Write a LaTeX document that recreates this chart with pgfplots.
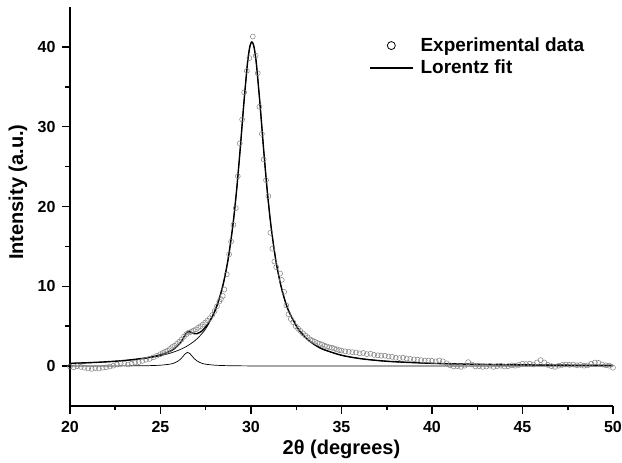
\documentclass[border=0pt]{standalone}
\usepackage{pgfplots}
\pgfplotsset{compat=1.18}
\usepackage{fontspec}
\setmainfont{Liberation Sans}

\begin{document}
\begin{tikzpicture}
\useasboundingbox (-70pt,-57pt) rectangle (552pt,406pt);
\begin{axis}[
  scale only axis, width=543pt, height=399pt,
  xmin=20, xmax=50, ymin=-5, ymax=45,
  axis x line*=bottom, axis y line*=left,
  axis line style={-, line width=1.2pt},
  xtick={20,25,...,50}, ytick={0,10,...,40},
  minor x tick num=1, minor y tick num=1,
  tick align=outside,
  major tick length=8pt, minor tick length=4.5pt,
  major tick style={line width=1.5pt, black},
  minor tick style={line width=1.5pt, black},
  /pgf/number format/assume math mode=true,
  tick label style={font=\fontsize{16}{16}\selectfont\bfseries},
  xticklabel style={yshift=-4pt},
  yticklabel style={xshift=-3pt},
  xlabel={2θ (degrees)}, ylabel={Intensity (a.u.)},
  label style={font=\fontsize{20}{20}\selectfont\bfseries},
  xlabel style={at={(axis description cs:0.5,-0.108)}, anchor=center},
  ylabel style={at={(axis description cs:-0.096,0.536)}, anchor=center},
  legend style={draw=none, fill=none, font=\fontsize{19}{19}\selectfont\bfseries,
    at={(axis description cs:0.545,0.933)}, anchor=north west, row sep=3pt,
    column sep=5pt},
  legend cell align=left,
  legend image code/.code={\draw[#1] (0pt,0pt) -- (43pt,0pt);},
]
% experimental data
\addplot[only marks, mark=o, mark size=2.5pt, gray, mark options={line width=0.5pt},
  legend image code/.code={\draw[black, line width=0.8pt] (21.5pt,0pt) circle (4pt);}]
coordinates {
(20.0,-0.05) (20.2,-0.15) (20.4,0.0) (20.6,-0.1) (20.8,-0.2) (21.0,-0.3) (21.2,-0.35)
(21.4,-0.25) (21.6,-0.3) (21.8,-0.2) (22.0,-0.15) (22.2,-0.05) (22.4,0.05) (22.6,0.2)
(22.8,0.35) (23.0,0.3) (23.2,0.2) (23.4,0.3) (23.6,0.45) (23.8,0.5) (24.0,0.65)
(24.2,0.8) (24.4,0.9) (24.6,1.1) (24.8,1.3)
(25.0,1.5) (25.13,1.65) (25.26,1.8) (25.39,1.95) (25.52,2.15) (25.65,2.4) (25.78,2.55)
(25.91,2.8) (26.04,3.05) (26.17,3.35) (26.3,3.7) (26.43,4.0) (26.56,4.2) (26.69,4.3)
(26.82,4.45) (26.95,4.6) (27.08,4.8) (27.21,5.0) (27.34,5.2) (27.47,5.45) (27.6,5.7)
(27.73,6.0) (27.86,6.4) (27.99,6.9) (28.12,7.5) (28.25,8.1) (28.34,8.4)
(28.44,8.8) (28.53,9.6) (28.66,11.5) (28.79,14.0) (28.90,15.6) (29.03,17.7) (29.16,19.8)
(29.27,23.8) (29.38,27.9) (29.51,30.9) (29.62,34.3) (29.77,37.0) (29.91,38.6) (30.10,41.3)
(30.26,38.9) (30.37,36.7) (30.46,32.5) (30.60,29.1) (30.70,25.9) (30.83,23.3) (30.96,21.3)
(31.07,16.7) (31.18,14.7) (31.29,13.1) (31.39,12.4) (31.61,11.6) (31.70,10.8) (31.83,9.3)
(31.95,7.6) (32.07,6.5) (32.2,5.9) (32.33,5.5) (32.47,5.0) (32.6,4.7) (32.73,4.4)
(32.87,4.1) (33.0,3.85) (33.13,3.6) (33.27,3.35) (33.4,3.2) (33.53,3.05) (33.67,2.9)
(33.8,2.8) (33.93,2.7) (34.07,2.55) (34.2,2.45) (34.33,2.35) (34.47,2.3) (34.6,2.2)
(34.73,2.1) (34.87,2.0)
(35.0,1.95) (35.2,1.85) (35.4,1.8) (35.6,1.75) (35.8,1.7) (36.0,1.6) (36.2,1.65)
(36.4,1.5) (36.6,1.55) (36.8,1.4) (37.0,1.35) (37.2,1.3) (37.4,1.3) (37.6,1.2)
(37.8,1.15) (38.0,1.05) (38.2,1.0) (38.4,1.05) (38.6,0.95) (38.8,0.9) (39.0,0.85)
(39.2,0.8) (39.4,0.75) (39.6,0.7) (39.8,0.7) (40.0,0.65) (40.2,0.6) (40.4,0.7)
(40.6,0.6) (40.8,0.35) (41.0,0.1) (41.2,-0.05) (41.4,0.0) (41.6,-0.1) (41.8,0.05)
(42.0,0.5) (42.2,0.2) (42.4,-0.05) (42.6,0.0) (42.8,-0.1) (43.0,-0.05) (43.2,0.05)
(43.4,-0.1) (43.6,0.0) (43.8,0.05) (44.0,-0.05) (44.2,0.0) (44.4,0.1) (44.6,0.05)
(44.8,0.15) (45.0,0.3) (45.2,0.25) (45.4,0.3) (45.6,0.2) (45.8,0.45) (46.0,0.75)
(46.2,0.45) (46.4,0.15) (46.6,0.0) (46.8,-0.1) (47.0,0.05) (47.2,0.15) (47.4,0.2)
(47.6,0.15) (47.8,0.2) (48.0,0.1) (48.2,0.15) (48.4,0.05) (48.6,0.1) (48.8,0.3)
(49.0,0.45) (49.2,0.4) (49.4,0.2) (49.6,0.1) (49.8,0.05) (50.0,-0.2)
};
\addlegendentry{Experimental data}
% total Lorentz fit
\addplot[black, line width=1.4pt, smooth] coordinates {
(20,0.344) (21,0.424) (22,0.537) (23,0.702) (24,0.961) (24.5,1.152) (25,1.418)
(25.5,1.832) (25.75,2.158) (26,2.663) (26.125,3.030) (26.25,3.485) (26.375,3.961)
(26.5,4.275) (26.625,4.299) (26.75,4.165) (26.875,4.060) (27,4.057) (27.25,4.337)
(27.5,4.913) (27.75,5.760) (28,6.920) (28.25,8.495) (28.5,10.643) (28.75,13.602)
(29,17.675) (29.2,21.940) (29.4,27.114) (29.6,32.790) (29.8,37.833) (29.9,39.573)
(29.95,40.16) (30.0,40.50) (30.05,40.621) (30.1,40.50) (30.15,40.16) (30.2,39.569)
(30.3,37.827) (30.5,32.779) (30.7,27.097) (30.9,21.917) (31.1,17.645) (31.35,13.561)
(31.6,10.588) (31.85,8.420) (32.1,6.815) (32.6,4.683) (33.1,3.392) (33.6,2.560)
(34.05,2.045) (35,1.360) (36,0.951) (37,0.701) (38,0.539) (40,0.345) (42,0.240)
(44,0.176) (46,0.135) (48,0.107) (50,0.087)
};
\addlegendentry{Lorentz fit}
% main component
\addplot[black, line width=0.7pt, smooth, forget plot] coordinates {
(20,0.337) (21,0.415) (22,0.524) (23,0.680) (24,0.918) (24.5,1.086) (25,1.304)
(25.5,1.595) (26,1.992) (26.5,2.555) (27,3.386) (27.5,4.676) (28,6.806) (28.25,8.410)
(28.5,10.577) (28.75,13.549) (29,17.632) (29.2,21.903) (29.4,27.082) (29.6,32.762)
(29.8,37.808) (29.9,39.549) (29.95,40.14) (30.0,40.48) (30.05,40.6) (30.1,40.48)
(30.15,40.14) (30.2,39.549) (30.3,37.808) (30.5,32.762) (30.7,27.082) (30.9,21.903)
(31.1,17.632) (31.35,13.549) (31.6,10.577) (31.85,8.410) (32.1,6.806) (32.6,4.676)
(33.1,3.386) (33.6,2.555) (34.05,2.040) (35,1.356) (36,0.948) (37,0.699) (38,0.537)
(40,0.344) (42,0.239) (44,0.176) (46,0.135) (48,0.106) (50,0.086)
};
% small component
\addplot[black, line width=0.7pt, smooth, forget plot] coordinates {
(20,0.007) (22,0.014) (24,0.043) (24.5,0.066) (25,0.114) (25.5,0.237) (25.75,0.381)
(26,0.671) (26.125,0.916) (26.25,1.237) (26.375,1.567) (26.5,1.72) (26.625,1.567)
(26.75,1.237) (26.875,0.916) (27,0.671) (27.25,0.381) (27.5,0.237) (28,0.114)
(28.5,0.066) (29,0.043) (30,0.022) (32,0.009) (35,0.004) (40,0.0015) (50,0.0005)
};
\end{axis}
\end{tikzpicture}
\end{document}
